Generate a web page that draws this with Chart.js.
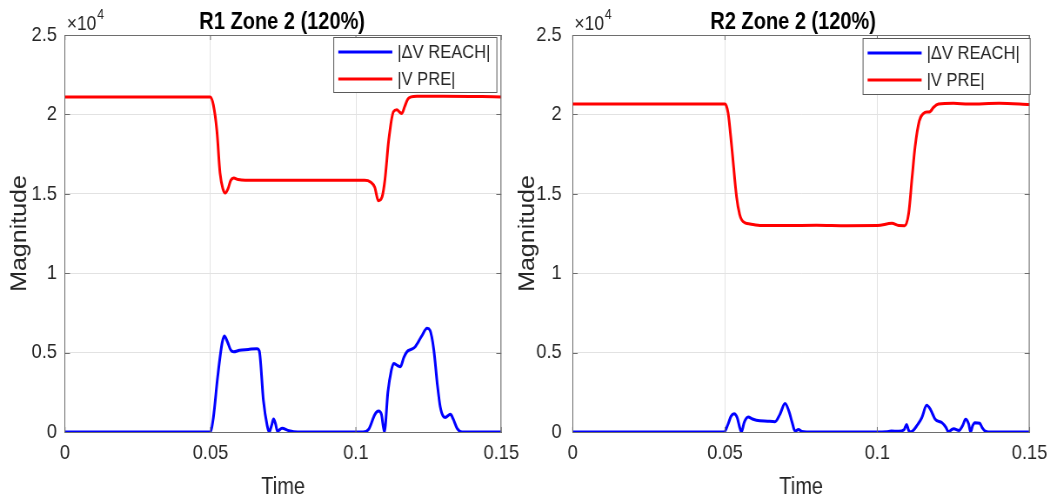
<!DOCTYPE html>
<html>
<head>
<meta charset="utf-8">
<script src="https://cdn.jsdelivr.net/npm/chart.js@4/dist/chart.umd.min.js"></script>
<style>
  html, body { margin: 0; padding: 0; background: #fff; width: 1055px; height: 501px; overflow: hidden; }
  .panel { position: absolute; top: 0; height: 501px; transform-origin: 0 0; }
  .panel canvas { display: block; }
</style>
</head>
<body>
<div class="panel" id="p1"><canvas id="c1"></canvas></div>
<div class="panel" id="p2"><canvas id="c2"></canvas></div>
<script>
// ---- Axis tick labels ----
const xTickLabels = ['0', '0.05', '0.1', '0.15'];
const yTickLabels = ['0', '0.5', '1', '1.5', '2', '2.5'];
const seriesNames = ['|ΔV REACH|', '|V PRE|'];

// ---- R1 Zone 2 (120%) ----
const r1ReachT = [0, 0.0499, 0.0510, 0.0525, 0.0540, 0.0548, 0.0558, 0.0570, 0.0580, 0.0600, 0.0630, 0.0660,
  0.0668, 0.0682, 0.0695, 0.0702, 0.0710, 0.0717, 0.0724, 0.0730, 0.0746, 0.0770, 0.0800, 0.1025, 0.1045,
  0.1065, 0.1078, 0.1088, 0.1098, 0.1110, 0.1122, 0.1130, 0.1142, 0.1153, 0.1165, 0.1176, 0.1190, 0.1204,
  0.1225, 0.1245, 0.1255, 0.1268, 0.1280, 0.1290, 0.1300, 0.1308, 0.1318, 0.1325, 0.1335, 0.1348, 0.1365, 0.1500];
const r1ReachV = [0, 0, 900, 3500, 5600, 6050, 5700, 5150, 5050, 5150, 5200, 5250,
  5100, 2000, 400, 0, 400, 820, 500, 50, 230, 80, 0, 0, 200,
  1100, 1320, 1100, 0, 2500, 3900, 4320, 4200, 4110, 4700, 5060, 5200, 5370,
  6000, 6530, 6400, 5160, 3000, 1590, 1000, 920, 1050, 1110, 800, 230, 0, 0];
const r1PreT = [0, 0.0499, 0.0510, 0.0522, 0.0533, 0.0543, 0.0551, 0.0560, 0.0570, 0.0580, 0.0595, 0.0620,
  0.1030, 0.1050, 0.1065, 0.1077, 0.1090, 0.1100, 0.1113, 0.1129, 0.1141, 0.1150, 0.1158, 0.1168, 0.1178,
  0.1190, 0.1210, 0.1300, 0.1500];
const r1PreV = [21100, 21100, 20600, 19000, 16300, 15300, 15050, 15300, 15850, 16000, 15900, 15850,
  15850, 15750, 15400, 14570, 14800, 15900, 18400, 20170, 20300, 20150, 20060, 20500, 20950,
  21100, 21150, 21150, 21100];

// ---- R2 Zone 2 (120%) ----
const r2ReachT = [0, 0.0497, 0.0510, 0.0520, 0.0530, 0.0540, 0.0548, 0.0554, 0.0563, 0.0576, 0.0590, 0.0603,
  0.0640, 0.0664, 0.0680, 0.0697, 0.0710, 0.0719, 0.0730, 0.0741, 0.0752, 0.0768, 0.0997, 0.1030, 0.1046,
  0.1070, 0.1088, 0.1096, 0.1102, 0.1107, 0.1118, 0.1130, 0.1146, 0.1162, 0.1175, 0.1190, 0.1212, 0.1225,
  0.1234, 0.1244, 0.1251, 0.1268, 0.1280, 0.1290, 0.1300, 0.1306, 0.1313, 0.1320, 0.1336, 0.1345, 0.1354,
  0.1376, 0.1500];
const r2ReachV = [0, 0, 500, 1000, 1150, 900, 300, 0, 600, 940, 820, 740,
  680, 650, 1100, 1800, 1300, 700, 60, 150, 30, 0, 0, 20, 60,
  50, 150, 480, 150, 0, 100, 400, 900, 1680, 1400, 800, 590, 300,
  0, 150, 200, 100, 400, 800, 500, 0, 400, 590, 550, 250, 60,
  0, 0];
const r2PreT = [0, 0.0500, 0.0510, 0.0522, 0.0538, 0.0548, 0.0555, 0.0568, 0.0582, 0.0620, 0.0700, 0.0800,
  0.0900, 0.1000, 0.1048, 0.1070, 0.1090, 0.1103, 0.1114, 0.1124, 0.1138, 0.1152, 0.1165, 0.1173, 0.1185,
  0.1201, 0.1250, 0.1300, 0.1400, 0.1500];
const r2PreV = [20650, 20650, 20100, 17970, 14800, 13700, 13350, 13150, 13100, 13000, 13000, 13020,
  12990, 13000, 13140, 13000, 12990, 13770, 16000, 17970, 19600, 20070, 20150, 20170, 20450,
  20650, 20700, 20650, 20700, 20620];

// The figure is rendered wider and squeezed horizontally by K,
// giving the tall, condensed lettering of an exported MATLAB figure.
const K = 0.87;
const FONT = '"Liberation Sans", Arial, Helvetica, sans-serif';
const TEXT = '#262626';
const AXIS = '#6e6e6e';

function pts(t, v) { return t.map((x, i) => ({ x: x, y: v[i] })); }

// Draws the MATLAB-style frame: full box, inward ticks, title, exponent and legend.
const framePlugin = {
  id: 'frame',
  afterDraw(chart, args, o) {
    const ctx = chart.ctx;
    const { left, right, top, bottom } = chart.chartArea;
    const xs = chart.scales.x, ys = chart.scales.y;
    ctx.save();
    ctx.strokeStyle = AXIS;
    ctx.lineWidth = 1;
    ctx.beginPath();
    ctx.moveTo(left, top + 0.5); ctx.lineTo(right, top + 0.5);
    ctx.moveTo(right - 0.5, top); ctx.lineTo(right - 0.5, bottom);
    ctx.stroke();
    // inward tick marks
    const tv = 5, th = 5 / K;
    ctx.beginPath();
    xs.ticks.forEach(t => {
      const px = xs.getPixelForValue(t.value);
      ctx.moveTo(px, bottom); ctx.lineTo(px, bottom - tv);
      ctx.moveTo(px, top); ctx.lineTo(px, top + tv);
    });
    ys.ticks.forEach(t => {
      const py = Math.round(ys.getPixelForValue(t.value)) + 0.5;
      ctx.moveTo(left, py); ctx.lineTo(left + th, py);
      ctx.moveTo(right, py); ctx.lineTo(right - th, py);
    });
    ctx.stroke();

    // title
    ctx.fillStyle = '#000';
    ctx.font = 'bold 23px ' + FONT;
    ctx.textAlign = 'center';
    ctx.textBaseline = 'alphabetic';
    ctx.fillText(o.title, (left + right) / 2 + o.titleShift / K, 29);

    // axis exponent
    ctx.fillStyle = TEXT;
    ctx.textAlign = 'left';
    ctx.font = '20px ' + FONT;
    ctx.fillText('×10', left + 2, 30);
    const w = ctx.measureText('×10').width;
    ctx.font = '14px ' + FONT;
    ctx.fillText('4', left + 2 + w + 1, 19);

    // legend
    const lg = o.legend;
    const bw = lg.w / K;
    const bx = right + lg.dx / K - bw, by = top + lg.dy;
    ctx.fillStyle = '#fff';
    ctx.fillRect(bx, by, bw, lg.h);
    ctx.strokeStyle = '#5a5a5a';
    ctx.strokeRect(bx + 0.5, by + 0.5, bw - 1, lg.h - 1);
    ctx.font = '19px ' + FONT;
    ctx.textBaseline = 'middle';
    chart.data.datasets.forEach((ds, i) => {
      const ly = by + (i === 0 ? 15 : 42);
      ctx.strokeStyle = ds.borderColor;
      ctx.lineWidth = 3;
      ctx.beginPath();
      ctx.moveTo(bx + 5 / K, ly); ctx.lineTo(bx + 59 / K, ly);
      ctx.stroke();
      ctx.fillStyle = TEXT;
      ctx.fillText(ds.label, bx + 64 / K, ly + 1);
    });
    ctx.restore();
  }
};

// cssLeft/cssWidth: placement on the page; plotLeft/plotRight: page x of the axes box.
function makeChart(id, reachT, reachV, preT, preV, opt) {
  const panel = document.getElementById('p' + id.slice(1));
  const canvas = document.getElementById(id);
  const cw = Math.round(opt.cssWidth / K);
  canvas.width = cw; canvas.height = 501;
  canvas.style.width = cw + 'px'; canvas.style.height = '501px';
  panel.style.left = opt.cssLeft + 'px';
  panel.style.width = cw + 'px';
  panel.style.transform = 'scaleX(' + K + ')';
  const axisW = (opt.plotLeft - opt.cssLeft) / K;
  const padRight = cw - (opt.plotRight - opt.cssLeft) / K;

  return new Chart(canvas, {
    type: 'line',
    data: {
      datasets: [
        { label: seriesNames[0], data: pts(reachT, reachV), borderColor: '#0000ff', backgroundColor: '#0000ff' },
        { label: seriesNames[1], data: pts(preT, preV), borderColor: '#ff0000', backgroundColor: '#ff0000' }
      ]
    },
    options: {
      responsive: false,
      animation: false,
      events: [],
      layout: { padding: { top: 35, right: padRight, left: 0, bottom: 0 } },
      elements: {
        point: { radius: 0 },
        line: { borderWidth: 3, cubicInterpolationMode: 'monotone' }
      },
      plugins: {
        legend: { display: false },
        tooltip: { enabled: false },
        frame: opt
      },
      scales: {
        x: {
          type: 'linear', min: 0, max: 0.15,
          ticks: {
            stepSize: 0.05, autoSkip: false, maxRotation: 0, padding: 9,
            color: TEXT, font: { family: FONT, size: 21 },
            callback: (v, i) => xTickLabels[i]
          },
          grid: { color: '#e2e2e2', drawTicks: false },
          border: { color: AXIS },
          title: { display: true, text: 'Time', color: TEXT, font: { family: FONT, size: 23 }, padding: { top: 0, bottom: 0 } },
          afterFit(s) { s.height = 69; s.paddingLeft = 0; s.paddingRight = 0; }
        },
        y: {
          min: 0, max: 25000,
          ticks: {
            stepSize: 5000, padding: opt.yPad / K,
            color: TEXT, font: { family: FONT, size: 21 },
            callback: (v, i) => yTickLabels[i]
          },
          grid: { color: '#e2e2e2', drawTicks: false },
          border: { color: AXIS },
          title: { display: true, text: 'Magnitude', color: TEXT, font: { family: FONT, size: 25 }, padding: { top: 8, bottom: 0 } },
          afterFit(s) { s.width = axisW; s.paddingTop = 0; s.paddingBottom = 0; }
        }
      }
    },
    plugins: [framePlugin]
  });
}

makeChart('c1', r1ReachT, r1ReachV, r1PreT, r1PreV, {
  cssLeft: 0, cssWidth: 525, plotLeft: 65, plotRight: 501.3,
  title: 'R1 Zone 2 (120%)', titleShift: -1, yPad: 8,
  legend: { dx: -4, dy: 2, w: 164, h: 56 }
});
makeChart('c2', r2ReachT, r2ReachV, r2PreT, r2PreV, {
  cssLeft: 508, cssWidth: 547, plotLeft: 572.7, plotRight: 1029.6,
  title: 'R2 Zone 2 (120%)', titleShift: -8, yPad: 11,
  legend: { dx: 1, dy: 3, w: 168, h: 57 }
});
</script>
</body>
</html>
